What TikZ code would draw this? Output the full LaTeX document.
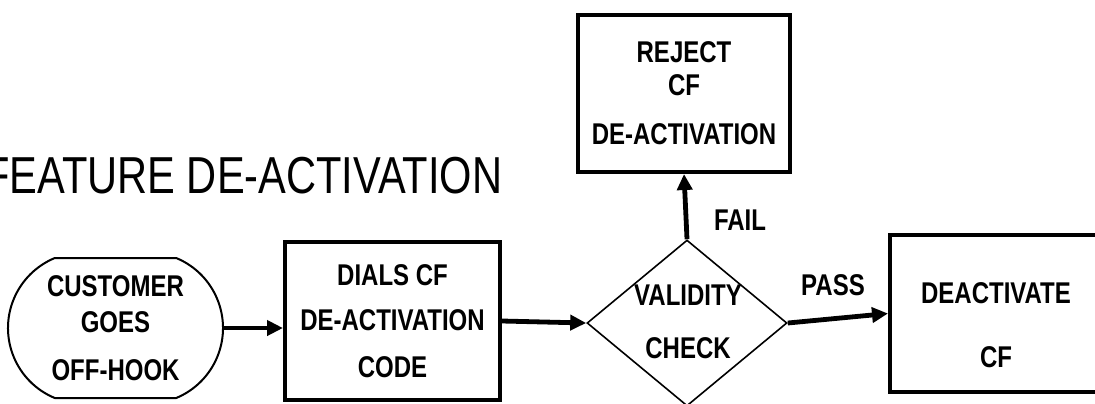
\documentclass[tikz,border=0pt]{standalone}
\usepackage{fontspec}
\usepackage{graphicx}
\setmainfont{Liberation Sans}
\usetikzlibrary{shapes.geometric,shapes.misc,arrows.meta}
\newcommand\hsq[1]{\scalebox{0.8}[1]{#1}}
\begin{document}
\begin{tikzpicture}[x=0.5pt,y=-0.5pt,
  txt/.style={font=\bfseries\fontsize{15}{18}\selectfont, align=center, inner sep=0pt},
  box/.style={txt, draw, line width=2pt},
  term/.style={txt, draw, line width=1pt, rounded rectangle, rounded rectangle arc length=135},
  dia/.style={draw, diamond, line width=0.8pt, inner sep=0pt},
  conn/.style={line width=2.4pt, -{Triangle[length=8pt,width=7.5pt]}},
  title/.style={font=\fontsize{26}{30}\selectfont, inner sep=0pt}]
\useasboundingbox (0,0) rectangle (1095,403);
\clip (0,0) rectangle (1095,403);
\fill[white] (0,0) rectangle (1095,403);
\node[title, anchor=base west] (ttl) at (-16,193) {\hsq{FEATURE DE-ACTIVATION}};
\node[term, minimum width=107.5pt, minimum height=70pt] (cust) at (115.5,328)
  {\hsq{CUSTOMER}\\\hsq{GOES}\\[6pt]\hsq{OFF-HOOK}};
\node[box, minimum width=107.5pt, minimum height=79pt] (dials) at (392.5,321)
  {\hsq{DIALS CF}\\[4.5pt]\hsq{DE-ACTIVATION}\\[5.5pt]\hsq{CODE}};
\node[dia, minimum width=100pt, minimum height=83pt] (check) at (687,323) {};
\node[txt] (checktxt) at (688,321.5) {\hsq{VALIDITY}\\[8.5pt]\hsq{CHECK}};
\node[box, minimum width=106pt, minimum height=78.5pt] (reject) at (684,93.5)
  {\hsq{REJECT}\\[-1.5pt]\hsq{CF}\\[6.5pt]\hsq{DE-ACTIVATION}};
\node[box, minimum width=110pt, minimum height=78.5pt] (deact) at (1000,313.5) {};
\node[txt] (deacttxt) at (996,325) {\hsq{DEACTIVATE}\\[14pt]\hsq{CF}};
\node[txt] (fail) at (740,220) {\hsq{FAIL}};
\node[txt] (pass) at (833,285) {\hsq{PASS}};
\draw[conn] (cust.east) -- (cust.east -| dials.west);
\draw[conn] (dials.east) -- (check.west);
\draw[conn] (check.north) -- (reject.south);
\draw[conn] (check.east) -- (deact.west);
\end{tikzpicture}
\end{document}
